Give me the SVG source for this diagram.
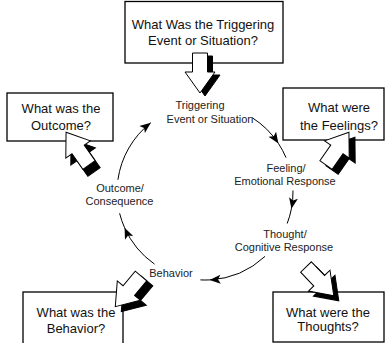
<svg xmlns="http://www.w3.org/2000/svg" xmlns:xlink="http://www.w3.org/1999/xlink" width="389" height="343" viewBox="0 0 389 343">
  <style>
    .box { fill: #ffffff; stroke: #000000; stroke-width: 1.3; }
    .q { font-family: "Liberation Sans", Arial, sans-serif; font-size: 13px; fill: #111111; text-anchor: middle; }
    .stage { font-family: "Liberation Sans", Arial, sans-serif; font-size: 11px; fill: #222222; text-anchor: middle; }
    .arc { fill: none; stroke: #000000; stroke-width: 1; }
    .body { fill: #ffffff; stroke: #000000; stroke-width: 1; stroke-linejoin: miter; }
    .shade { fill: #000000; stroke: #000000; stroke-width: 1; }
  </style>
  <defs>
    <marker id="head" viewBox="-12 -6 13 12" refX="0" refY="0" markerWidth="13" markerHeight="12" markerUnits="userSpaceOnUse" orient="auto">
      <path d="M0,0 L-11,-4.5 L-8.5,0 L-11,4.5 Z" fill="#000000"/>
    </marker>
    <!-- block arrow pointing along +x, tail at the origin -->
    <path id="blockArrow" d="M0,-7.5 H19 V-15 L40,0 L19,15 V7.5 H0 Z"/>
  </defs>

  <!-- question boxes -->
  <g id="box-trigger">
    <rect class="box" x="125" y="1.5" width="158" height="61.5"/>
    <text class="q" x="203" y="28.5">What Was the Triggering</text>
    <text class="q" x="203" y="45">Event or Situation?</text>
  </g>
  <g id="box-outcome">
    <rect class="box" x="7" y="93" width="106" height="48"/>
    <text class="q" x="61" y="113">What was the</text>
    <text class="q" x="61" y="130">Outcome?</text>
  </g>
  <g id="box-feelings">
    <rect class="box" x="283" y="88" width="101" height="52"/>
    <text class="q" x="339" y="112">What were</text>
    <text class="q" x="339" y="130">the Feelings?</text>
  </g>
  <g id="box-behavior">
    <rect class="box" x="23" y="292" width="100" height="60"/>
    <text class="q" x="76" y="317">What was the</text>
    <text class="q" x="76" y="332.5">Behavior?</text>
  </g>
  <g id="box-thoughts">
    <rect class="box" x="273" y="292" width="111" height="50"/>
    <text class="q" x="328" y="317">What were the</text>
    <text class="q" x="328" y="331">Thoughts?</text>
  </g>

  <!-- cycle stages -->
  <g id="stage-trigger">
    <text class="stage" x="200" y="108.5">Triggering</text>
    <text class="stage" x="210" y="122.5">Event or Situation</text>
  </g>
  <g id="stage-feeling">
    <text class="stage" x="286" y="171.5">Feeling/</text>
    <text class="stage" x="285" y="185">Emotional Response</text>
  </g>
  <g id="stage-thought">
    <text class="stage" x="285" y="237.5">Thought/</text>
    <text class="stage" x="284" y="251">Cognitive Response</text>
  </g>
  <g id="stage-behavior">
    <text class="stage" x="171" y="277">Behavior</text>
  </g>
  <g id="stage-outcome">
    <text class="stage" x="120" y="191.5">Outcome/</text>
    <text class="stage" x="119.5" y="205">Consequence</text>
  </g>

  <g id="connectors">
    <!-- cycle arcs, centre (205,192), r 88 -->
    <path class="arc" d="M252.2,117.7 A88,88 0 0 1 278.4,143.4 A88,88 0 0 1 286.0,157.6" marker-mid="url(#head)"/>
    <path class="arc" d="M293.0,190.5 A88,88 0 0 1 291.4,208.8 A88,88 0 0 1 287.2,223.5" marker-mid="url(#head)"/>
    <path class="arc" d="M265.0,256.4 A88,88 0 0 1 209.6,279.9 A88,88 0 0 1 200.4,279.9" marker-mid="url(#head)"/>
    <path class="arc" d="M154.5,264.1 A88,88 0 0 1 124.6,227.8 A88,88 0 0 1 119.6,213.3" marker-mid="url(#head)"/>
    <path class="arc" d="M117.9,179.8 A88,88 0 0 1 150.8,122.7" marker-end="url(#head)"/>

    <!-- 3-D block arrows between boxes and stages -->
    <g id="arrow-trigger">
      <use xlink:href="#blockArrow" class="shade" transform="translate(5,3) translate(200,53) rotate(90)"/>
      <use xlink:href="#blockArrow" class="body" transform="translate(200,53) rotate(90)"/>
    </g>
    <g id="arrow-outcome">
      <use xlink:href="#blockArrow" class="shade" transform="translate(5,7) translate(89,165) rotate(235)"/>
      <use xlink:href="#blockArrow" class="body" transform="translate(89,165) rotate(235)"/>
    </g>
    <g id="arrow-feelings">
      <use xlink:href="#blockArrow" class="shade" transform="translate(6,5) translate(326,165) rotate(-55)"/>
      <use xlink:href="#blockArrow" class="body" transform="translate(326,165) rotate(-55)"/>
    </g>
    <g id="arrow-behavior">
      <use xlink:href="#blockArrow" class="shade" transform="translate(6,5) translate(141,276) rotate(130)"/>
      <use xlink:href="#blockArrow" class="body" transform="translate(141,276) rotate(130)"/>
    </g>
    <g id="arrow-thoughts">
      <use xlink:href="#blockArrow" class="shade" transform="translate(5,5) translate(306,267) rotate(46)"/>
      <use xlink:href="#blockArrow" class="body" transform="translate(306,267) rotate(46)"/>
    </g>
  </g>
</svg>
